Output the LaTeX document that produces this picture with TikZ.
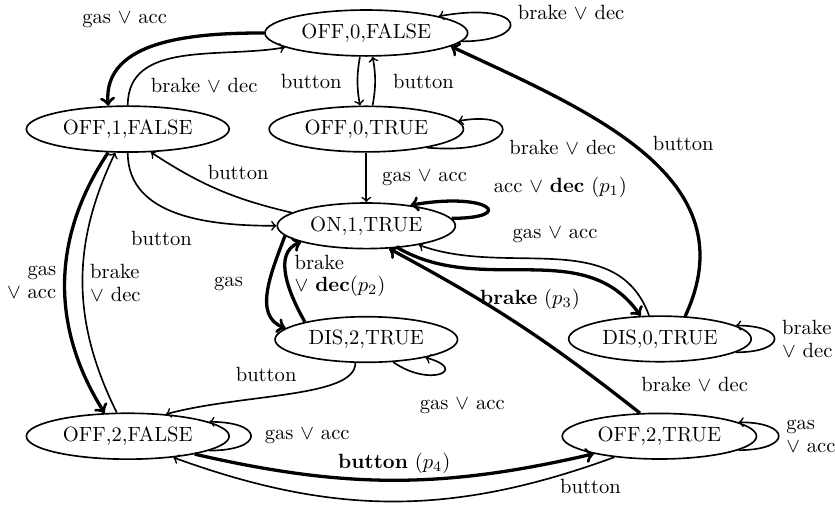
\documentclass[tikz,border=0pt]{standalone}
\usepackage{amssymb}
\usepackage{tikz}
\usetikzlibrary{shapes.geometric,positioning}

\begin{document}
\begin{tikzpicture}[
    state/.style={ellipse,draw,thick},
    trans/.style={->,thick},
    pref/.style={->,ultra thick},
]
\useasboundingbox (0,0) rectangle (14.247,8.633);

%%%
% States
\node[state] (off0f) at (6.25,8.07) {OFF,0,FALSE};
\node[state] (off1f) at (2.18,6.43) {OFF,1,FALSE};
\node[state] (off0t) at (6.25,6.43) {OFF,0,TRUE};
\node[state] (on1t)  at (6.25,4.78) {ON,1,TRUE};
\node[state] (dis2t) at (6.25,2.84) {DIS,2,TRUE};
\node[state] (dis0t) at (11.26,2.85) {DIS,0,TRUE};
\node[state] (off2f) at (2.18,1.19) {OFF,2,FALSE};
\node[state] (off2t) at (11.25,1.19) {OFF,2,TRUE};

%%%
% Top part
\draw[pref] (off0f.west) to[out=180,in=95]
    node[pos=0.4,above left=2pt] {gas $\vee$ acc} (off1f.130);
\draw[trans] (off1f.north) to[out=90,in=190]
    node[pos=0.25,below right] {brake $\vee$ dec} (off0f.190);
\draw[trans] (off0f.-5) to[out=0,in=10,out distance=34pt,in distance=44pt]
    node[right,yshift=5pt] {brake $\vee$ dec} (off0f.13);
\draw[trans] (off0f.255) to[bend right=10]
    node[left=4pt] {button} (off0t.105);
\draw[trans] (off0t.75) to[bend right=10]
    node[right=5pt] {button} (off0f.285);
\draw[trans] (off0t.-17) to[out=-5,in=10,out distance=44pt,in distance=33pt]
    node[below right] {brake $\vee$ dec} (off0t.5);
\draw[trans] (off0t) -- node[right=4pt] {gas $\vee$ acc} (on1t);
\draw[trans] (on1t.170) to[bend left=10]
    node[pos=0.35,above=5pt] {button} (off1f.-45);
\draw[trans] (off1f.south) to[out=-90,in=180]
    node[pos=0.4,below=8pt] {button} (on1t.west);

%%%
% ON,1,TRUE and the DIS states
\draw[pref] (on1t.5) to[out=0,in=10,out distance=32pt,in distance=39pt]
    node[above right] {acc $\vee$ \textbf{dec} ($p_1$)} (on1t.25);
\draw[pref] (on1t.-35) to[out=-30,in=125]
    node[below=5pt] {\textbf{brake} ($p_3$)} (dis0t.130);
\draw[trans] (dis0t.115) to[out=110,in=-20]
    node[above=4pt] {gas $\vee$ acc} (on1t.-20);
\draw[pref] (on1t.187) to[out=-110,in=160]
    node[left=8pt,yshift=3pt] {gas} (dis2t.172);
\draw[pref] (dis2t.164) to[out=120,in=-160]
    node[right,align=left] {brake\\[-1pt]$\vee$ \textbf{dec}($p_2$)} (on1t.194);
\draw[trans] (dis2t.-40) to[out=-35,in=-15,distance=22pt]
    node[pos=0.6,below=9pt,xshift=9pt] {gas $\vee$ acc} (dis2t.-17);
\draw[trans] (dis2t.-115) to[out=-90,in=15,out distance=17pt,in distance=39pt]
    node[pos=0.6,above=4pt] {button} (off2f.30);
\draw[pref] (dis0t.42) to[out=65,in=-25,looseness=1.1]
    node[pos=0.54,right=6pt] {button} (off0f.-9);
\draw[trans] (dis0t.-10) to[out=0,in=0,distance=25pt]
    node[right,align=left] {brake\\[-1pt]$\vee$ dec} (dis0t.10);

%%%
% Bottom part
\draw[pref] (off1f.-130) to[bend right=33]
    node[left,align=right] {gas\\[-1pt]$\vee$ acc} (off2f.135);
\draw[trans] (off2f.115) to[bend left=26]
    node[right,align=left] {brake\\[-1pt]$\vee$ dec} (off1f.-118);
\draw[trans] (off2f.-10) to[out=0,in=0,distance=27pt]
    node[right=3pt] {gas $\vee$ acc} (off2f.10);
\draw[pref] (off2f.-15) to[bend right=13]
    node[above,yshift=-1pt] {\textbf{button} ($p_4$)} (off2t.195);
\draw[trans] (off2t.-155) to[bend left=20]
    node[pos=0.05,below=3pt] {button} (off2f.-25);
\draw[pref] (off2t.130) to[bend right=5]
    node[pos=0.12,right=12pt,yshift=2pt] {brake $\vee$ dec} (on1t.-45);
\draw[trans] (off2t.-10) to[out=0,in=0,distance=26pt]
    node[right,align=left] {gas\\[-1pt]$\vee$ acc} (off2t.10);

\end{tikzpicture}
\end{document}
